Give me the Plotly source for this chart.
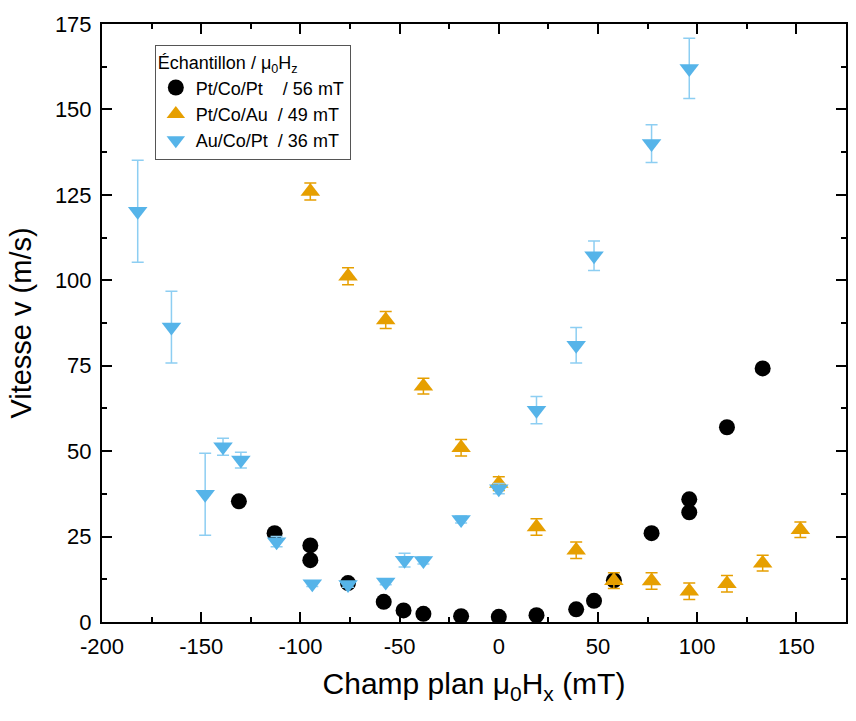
import plotly.graph_objects as go

# Pt/Co/Pt  (mu0Hz = 56 mT)
x_ptcopt = [-131, -113, -95, -95, -76, -58, -48, -38, -19, 0, 19, 39, 48, 58, 77, 96, 96, 115, 133]
v_ptcopt = [35.3, 26.0, 22.4, 18.1, 11.4, 5.9, 3.4, 2.4, 1.7, 1.5, 2.0, 3.7, 6.2, 12.2, 26.0, 35.9, 32.1, 57.0, 74.2]

# Pt/Co/Au  (mu0Hz = 49 mT)
x_ptcoau = [-95, -76, -57, -38, -19, 0, 19, 39, 58, 77, 96, 115, 133, 152]
v_ptcoau = [126.0, 101.2, 88.4, 69.0, 51.0, 40.5, 27.8, 21.0, 12.1, 12.0, 9.0, 11.2, 17.2, 27.0]
e_ptcoau = [2.5, 2.5, 2.5, 2.3, 2.4, 2.0, 2.4, 2.4, 2.3, 2.4, 2.4, 2.4, 2.3, 2.3]

# Au/Co/Pt  (mu0Hz = 36 mT)
x_aucopt = [-182, -165, -148, -139, -130, -112, -94, -76, -57, -47.5, -38, -19, 0, 19, 39, 48, 77, 96]
v_aucopt = [120.2, 86.3, 37.4, 51.3, 47.4, 23.5, 11.2, 11.0, 11.7, 18.1, 18.0, 30.0, 39.0, 62.0, 81.0, 107.2, 140.0, 162.0]
e_aucopt = [14.9, 10.5, 12.0, 2.5, 2.3, 1.5, 0.8, 0.8, 0.8, 2.0, 1.0, 1.0, 1.5, 4.0, 5.2, 4.3, 5.5, 8.8]

x_ticks = [-200, -150, -100, -50, 0, 50, 100, 150]
x_ticklabels = ["-200", "-150", "-100", "-50", "0", "50", "100", "150"]
y_ticks = [0, 25, 50, 75, 100, 125, 150, 175]

FONT = "Liberation Sans, Arial, sans-serif"
NB = "\u00a0"

fig = go.Figure()
fig.add_trace(go.Scatter(
    x=x_ptcopt, y=v_ptcopt, mode="markers",
    name="Pt/Co/Pt" + NB * 4 + "/ 56 mT",
    marker=dict(symbol="circle", size=16, color="black")))
fig.add_trace(go.Scatter(
    x=x_ptcoau, y=v_ptcoau, mode="markers",
    name="Pt/Co/Au" + NB * 2 + "/ 49 mT",
    marker=dict(symbol="triangle-up", size=17, color="#E69F00"),
    error_y=dict(type="data", array=e_ptcoau, color="#E69F00", thickness=1.5, width=6)))
fig.add_trace(go.Scatter(
    x=x_aucopt, y=v_aucopt, mode="markers",
    name="Au/Co/Pt" + NB * 2 + "/ 36 mT",
    marker=dict(symbol="triangle-down", size=17, color="#56B4E9"),
    error_y=dict(type="data", array=e_aucopt, color="#8DCEF2", thickness=1.5, width=6)))

axis_common = dict(
    showline=True, linecolor="black", linewidth=2, mirror="allticks",
    ticks="inside", ticklen=10, tickwidth=2, tickcolor="black",
    showgrid=False, zeroline=False, automargin=False,
    tickfont=dict(family=FONT, size=22, color="black"),
)

fig.update_xaxes(
    range=[-200, 175], tickvals=x_ticks, ticktext=x_ticklabels,
    minor=dict(dtick=25, ticklen=5, tickwidth=2, tickcolor="black", ticks="inside"),
    title=dict(text="Champ plan μ<sub>0</sub>H<sub>x</sub> (mT)",
               font=dict(family=FONT, size=30, color="black")),
    ticklabelstandoff=4,
    **axis_common)
fig.update_yaxes(
    range=[0, 175], tickvals=y_ticks,
    minor=dict(dtick=12.5, ticklen=5, tickwidth=2, tickcolor="black", ticks="inside"),
    title=dict(text="Vitesse v (m/s)",
               font=dict(family=FONT, size=29, color="black")),
    ticklabelstandoff=4,
    **axis_common)

fig.update_layout(
    width=856, height=721,
    margin=dict(l=102, r=10, t=24, b=99, autoexpand=False),
    plot_bgcolor="white", paper_bgcolor="white",
    font=dict(family=FONT, color="black"),
    legend=dict(
        title=dict(text="Échantillon / μ<sub>0</sub>H<sub>z</sub>", font=dict(size=18, family=FONT)),
        x=0.071, y=0.965, xanchor="left", yanchor="top",
        bordercolor="#555555", borderwidth=1, bgcolor="white",
        font=dict(family=FONT, size=18, color="black"),
        itemsizing="trace", tracegroupgap=0,
    ),
)

# drop the page margin so the 856x721 figure fills the window exactly
post = ("document.body.style.margin='0';document.body.style.overflow='hidden';"
        "Plotly.relayout(document.getElementById('{plot_id}'), {width: 856, height: 721});")
fig.write_html("out.html", post_script=post, config={"displayModeBar": False})
